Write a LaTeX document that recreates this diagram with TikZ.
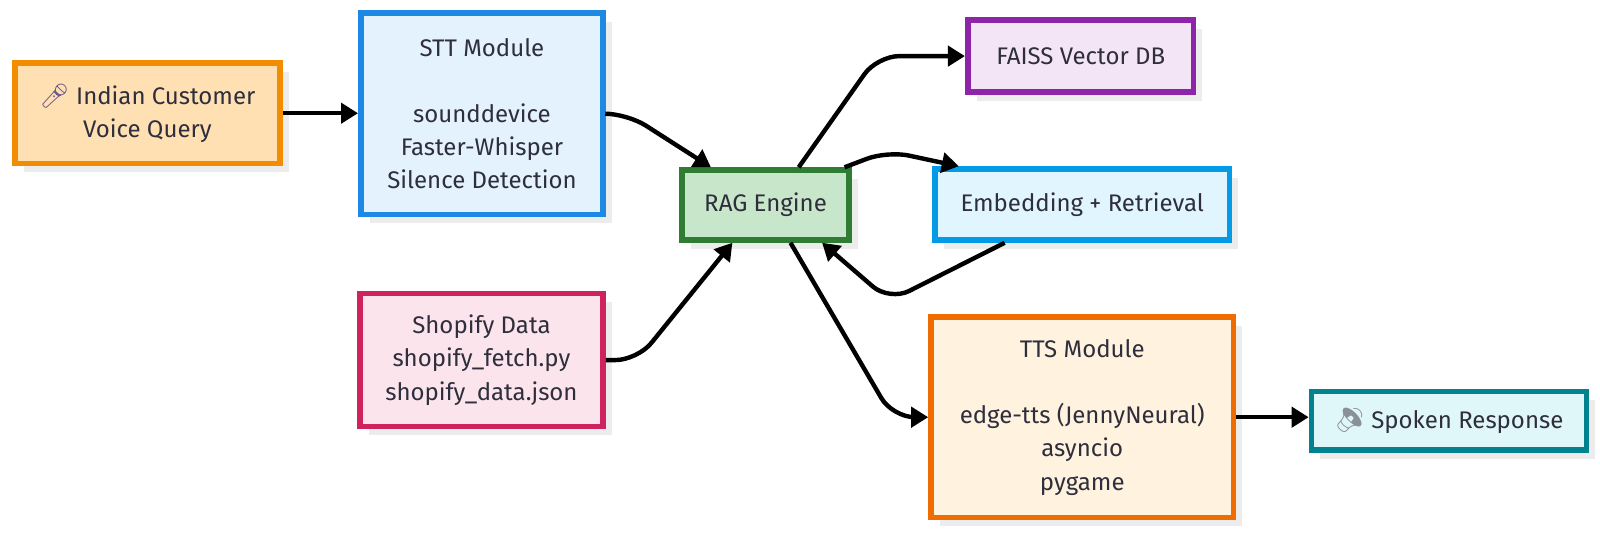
\documentclass[tikz,border=0pt]{standalone}
\usepackage{fontspec}
\setmainfont{Fira Sans}
\newfontfamily\emoji{Noto Emoji}
\usetikzlibrary{arrows.meta,shadows,calc}
\definecolor{txt}{HTML}{2E2E3C}
\definecolor{shadowc}{HTML}{ECECEC}
\definecolor{voiceD}{HTML}{F28C00}\definecolor{voiceF}{HTML}{FFE0B2}
\definecolor{sttD}{HTML}{1E88E5}\definecolor{sttF}{HTML}{E3F2FD}
\definecolor{ragD}{HTML}{2E7D32}\definecolor{ragF}{HTML}{C8E6C9}
\definecolor{shopD}{HTML}{D12260}\definecolor{shopF}{HTML}{FCE4EC}
\definecolor{faissD}{HTML}{8E24AA}\definecolor{faissF}{HTML}{F3E5F5}
\definecolor{embD}{HTML}{039BE5}\definecolor{embF}{HTML}{E1F5FE}
\definecolor{ttsD}{HTML}{EF6C00}\definecolor{ttsF}{HTML}{FFF3E0}
\definecolor{spkD}{HTML}{00838F}\definecolor{spkF}{HTML}{E0F7FA}
\definecolor{micC}{HTML}{6E5A8A}\definecolor{spkC}{HTML}{8A9099}
\begin{document}
\begin{tikzpicture}[x=0.51pt,y=-0.51pt,
  box/.style={draw, line width=2.8pt, align=center, inner sep=0pt, text=txt,
    font=\fontsize{12}{16.6}\selectfont,
    drop shadow={shadow xshift=4.4pt, shadow yshift=-4.4pt, fill=shadowc, opacity=1}},
  sz/.style 2 args={minimum width=#1*0.51pt-2.8pt, minimum height=#2*0.51pt-2.8pt},
  conn/.style={line width=2.2pt, -{Triangle[length=8.5pt,width=10pt]}, rounded corners=11pt}]
\useasboundingbox (0,0) rectangle (1568.6,521.6);
\node[box, sz={265}{104}, draw=voiceD, fill=voiceF] (voice) at (144.5,111)
  {{\emoji\color{micC}🎤} Indian Customer\\Voice Query};
\node[box, sz={243}{203}, draw=sttD, fill=sttF] (stt) at (472.5,111.5)
  {STT Module\\\mbox{}\\sounddevice\\Faster-Whisper\\Silence Detection};
\node[box, sz={169}{74}, draw=ragD, fill=ragF] (rag) at (750.5,201) {RAG Engine};
\node[box, sz={244}{136}, draw=shopD, fill=shopF] (shop) at (472,353)
  {Shopify Data\\shopify\_fetch.py\\shopify\_data.json};
\node[box, sz={227}{76}, draw=faissD, fill=faissF] (faiss) at (1059.5,55) {FAISS Vector DB};
\node[box, sz={294}{75}, draw=embD, fill=embF] (emb) at (1061,200.5) {Embedding + Retrieval};
\node[box, sz={302}{202}, draw=ttsD, fill=ttsF] (tts) at (1061,409)
  {TTS Module\\\mbox{}\\edge-tts (JennyNeural)\\asyncio\\pygame};
\node[box, sz={275}{63}, draw=spkD, fill=spkF] (spk) at (1420.5,412.5)
  {{\emoji\color{spkC}🔉} Spoken Response};
\draw[conn] (voice.east) -- (voice.east -| stt.west);
\draw[conn] (stt.east) -- ++(21,0) -- ($(rag.north west)+(31,0)$);
\draw[conn] (shop.east) -- ++(31,0) -- ($(rag.south west)+(52,0)$);
\draw[conn] ($(rag.north west)+(117,0)$) -- ($(faiss.west)+(-86,0)$) -- (faiss.west);
\draw[conn] ($(rag.north east)+(-7,0)$) -- ($(emb.north west)+(-44,-15)$) -- ($(emb.north west)+(26,0)$);
\draw[conn] ($(emb.south west)+(71,0)$) -- ($(emb.south west)+(-42,57)$) -- ($(rag.south east)+(-29,0)$);
\draw[conn] ($(rag.south west)+(109,0)$) -- ($(tts.west)+(-35,0)$) -- (tts.west);
\draw[conn] (tts.east) -- (tts.east -| spk.west);
\end{tikzpicture}
\end{document}
